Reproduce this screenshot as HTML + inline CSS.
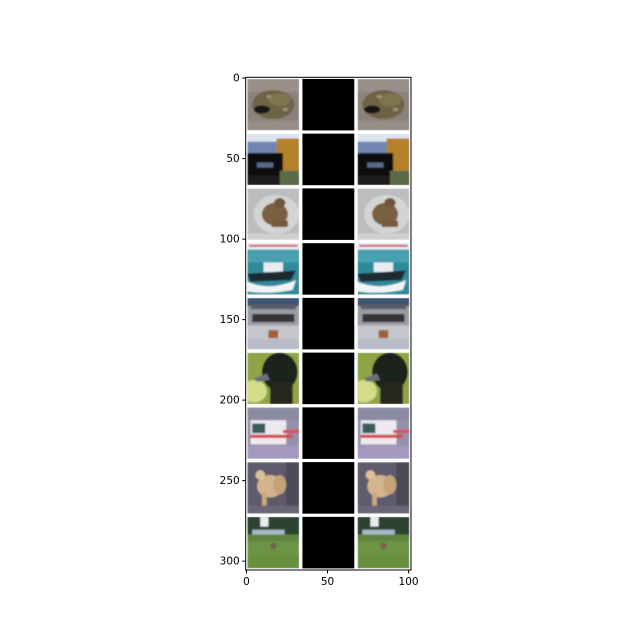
<!DOCTYPE html>
<html><head><meta charset="utf-8"><style>
body{margin:0;background:#fff}
svg{display:block}
text{font-family:"DejaVu Sans","Liberation Sans",sans-serif;font-size:10.5px;fill:#000}
</style></head><body>
<svg id="chart" width="640" height="640" viewBox="0 0 640 640">
<defs>
<filter id="bl" x="-10%" y="-10%" width="120%" height="120%"><feGaussianBlur stdDeviation="0.45"/></filter>
<clipPath id="cp"><rect x="0" y="0" width="32" height="32"/></clipPath>
</defs>
<rect x="245.7" y="77.3" width="165.3" height="492.7" fill="#fff"/>
<g id="grid" transform="translate(245.7,77.3) scale(1.6206,1.6101)"></g>
<rect x="245.7" y="77.3" width="165.3" height="492.7" fill="none" stroke="#000" stroke-width="1"/>
<g id="axes"></g>
</svg>
<script>
const xTicks=[0,50,100];
const yTicks=[0,50,100,150,200,250,300];
const rows=9, cols=3, cell=34, imgSize=32;
const X0=245.7,Y0=77.3,SX=1.6206,SY=1.6101;
const NS="http://www.w3.org/2000/svg";
const imgs=[
`<rect width="32" height="32" fill="#8c817b"/><rect x="0" y="0" width="32" height="8" fill="#9a8f88"/>
<ellipse cx="16" cy="16" rx="13" ry="9" fill="#6e6446"/><ellipse cx="20" cy="13" rx="7" ry="4" fill="#7d7450"/>
<ellipse cx="9" cy="19" rx="5" ry="2.5" fill="#151515"/><rect x="0" y="26" width="32" height="6" fill="#978c86"/>
<rect x="12" y="10" width="3" height="2" fill="#a09070"/><rect x="22" y="18" width="3" height="2" fill="#a09070"/>`,
`<rect width="32" height="32" fill="#dde4ee"/><rect x="0" y="5" width="20" height="8" fill="#6f86b0"/>
<rect x="18" y="3" width="14" height="20" fill="#b4812c"/><rect x="0" y="12" width="22" height="16" fill="#111"/>
<rect x="6" y="18" width="10" height="3" fill="#5a6a90"/><rect x="0" y="26" width="32" height="6" fill="#1a1a1a"/>
<rect x="20" y="23" width="12" height="9" fill="#5b6a45"/>`,
`<rect width="32" height="32" fill="#bdbdbd"/><ellipse cx="18" cy="16" rx="14" ry="12" fill="#d4d4d4"/>
<ellipse cx="17" cy="16" rx="8" ry="7" fill="#7a5e3f"/><ellipse cx="20" cy="9" rx="3.5" ry="3" fill="#6e5438"/>
<rect x="15" y="20" width="10" height="4" fill="#735a3b"/><rect x="0" y="28" width="32" height="4" fill="#cfcfcf"/>`,
`<rect width="32" height="32" fill="#2f8a98"/><rect x="0" y="0" width="32" height="4" fill="#e8eef4"/>
<rect x="1" y="1" width="30" height="1.3" fill="#d45a5a"/><rect x="0" y="4" width="32" height="8" fill="#4aa0b0"/>
<rect x="10" y="12" width="12" height="6" fill="#e8ecf0"/><polygon points="0,19 30,17 27,23 2,24" fill="#1c2a30"/>
<path d="M0 24 Q14 30 30 23 L28 29 Q14 32 0 30Z" fill="#f0f4f4"/>`,
`<rect width="32" height="32" fill="#9a9ca4"/><rect x="0" y="0" width="32" height="5" fill="#3c5474"/>
<rect x="2" y="4" width="28" height="3" fill="#5a5f66"/><rect x="3" y="10" width="26" height="5" fill="#353535"/>
<rect x="0" y="17" width="32" height="9" fill="#c4c6cc"/><rect x="13" y="20" width="6" height="5" fill="#a0603a"/>
<rect x="0" y="26" width="32" height="6" fill="#b8bcc8"/>`,
`<rect width="32" height="32" fill="#8ea444"/><ellipse cx="4" cy="24" rx="8" ry="7" fill="#d4dc8a"/>
<ellipse cx="20" cy="12" rx="11" ry="12" fill="#1f201a"/><rect x="14" y="18" width="14" height="14" fill="#25261e"/>
<polygon points="4,16 12,13 14,17 6,18" fill="#6c7078"/>`,
`<rect width="32" height="32" fill="#958fae"/><rect x="0" y="0" width="32" height="8" fill="#8a8aa0"/>
<rect x="2" y="8" width="22" height="15" fill="#eceaee"/><rect x="2" y="17" width="26" height="2" fill="#d04a4a"/>
<rect x="22" y="14" width="10" height="2" fill="#d85050"/><rect x="3" y="10" width="8" height="6" fill="#3a5a5a"/>
<rect x="0" y="24" width="32" height="8" fill="#a699c0"/>`,
`<rect width="32" height="32" fill="#5e5a6c"/><rect x="24" y="0" width="8" height="32" fill="#4c4854"/>
<ellipse cx="14" cy="15" rx="8" ry="7" fill="#d4b48c"/><ellipse cx="8" cy="8" rx="3" ry="3" fill="#dcc09a"/>
<ellipse cx="20" cy="14" rx="4" ry="6" fill="#c4a27a"/><rect x="9" y="19" width="3" height="8" fill="#c8a882"/>
<rect x="0" y="27" width="32" height="5" fill="#6a6678"/>`,
`<rect width="32" height="32" fill="#6c9444"/><rect x="0" y="0" width="32" height="11" fill="#2f4230"/>
<rect x="8" y="0" width="5" height="6" fill="#e8ecf0"/><rect x="3" y="8" width="20" height="3" fill="#a8b8c8"/>
<rect x="0" y="11" width="32" height="4" fill="#5f8440"/><ellipse cx="16" cy="18" rx="2" ry="2" fill="#7a604a"/>
<rect x="0" y="24" width="32" height="8" fill="#66903e"/>`
];
const grid=document.getElementById('grid');
for(let r=0;r<rows;r++){for(let c=0;c<cols;c++){
 const g=document.createElementNS(NS,'g');
 
 
 g.setAttribute('transform',`translate(${c*cell+1},${r*cell+1})`);
 if(c===1){g.innerHTML='<rect width="32" height="32" fill="#000"/>';}
 else{g.innerHTML=`<g clip-path="url(#cp)"><g filter="url(#bl)">${imgs[r]}</g></g>`;}
 grid.appendChild(g);
}}
const axes=document.getElementById('axes');
const xs=v=>X0+(v+0.5)*SX, ys=v=>Y0+(v+0.5)*SY;
const bottom=Y0+492.7;
xTicks.forEach(v=>{
 const l=document.createElementNS(NS,'line');
 
 
 l.setAttribute('x1',xs(v));l.setAttribute('x2',xs(v));l.setAttribute('y1',bottom);l.setAttribute('y2',bottom+3.5);l.setAttribute('stroke','#000');
 axes.appendChild(l);
 const t=document.createElementNS(NS,'text');
 
 
 t.setAttribute('x',xs(v));t.setAttribute('y',bottom+15);t.setAttribute('text-anchor','middle');t.textContent=v;
 axes.appendChild(t);
});
yTicks.forEach(v=>{
 const l=document.createElementNS(NS,'line');
 
 
 l.setAttribute('x1',X0-3.5);l.setAttribute('x2',X0);l.setAttribute('y1',ys(v));l.setAttribute('y2',ys(v));l.setAttribute('stroke','#000');
 axes.appendChild(l);
 const t=document.createElementNS(NS,'text');
 
 
 t.setAttribute('x',X0-6);t.setAttribute('y',ys(v)+3.5);t.setAttribute('text-anchor','end');t.textContent=v;
 axes.appendChild(t);
});
</script>
</body></html>
